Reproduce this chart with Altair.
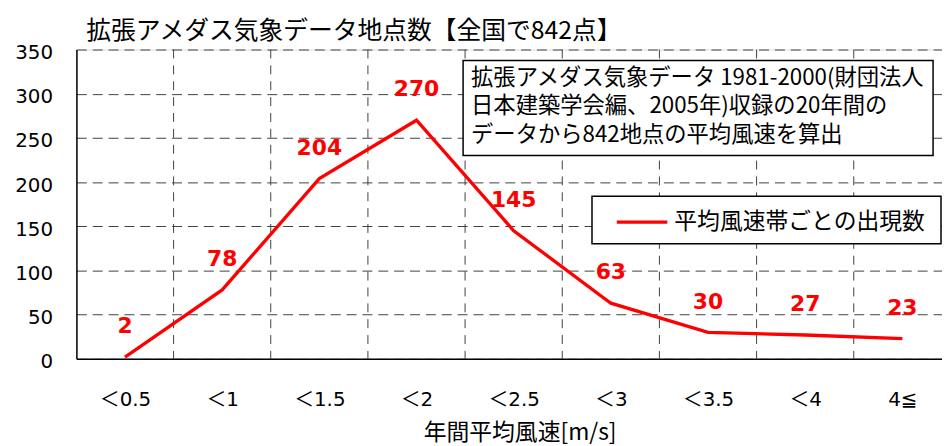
import json
import altair as alt
import pandas as pd

categories = ["＜0.5", "＜1", "＜1.5", "＜2", "＜2.5", "＜3", "＜3.5", "＜4", "4≦"]
counts = [2, 78, 204, 270, 145, 63, 30, 27, 23]
series_name = "平均風速帯ごとの出現数"
title_text = "拡張アメダス気象データ地点数【全国で842点】"
x_title = "年間平均風速[m/s]"
note_lines = [
    "拡張アメダス気象データ 1981-2000(財団法人",
    "日本建築学会編、2005年)収録の20年間の",
    "データから842地点の平均風速を算出",
]
y_ticks = [0, 50, 100, 150, 200, 250, 300, 350]

JP = "Noto Sans CJK JP"
NUM = "DejaVu Sans, Noto Sans CJK JP"
RED = "#ff0000"

df = pd.DataFrame({
    "idx": list(range(len(categories))),
    "category": categories,
    "count": counts,
    "series": [series_name] * len(categories),
})
bounds = pd.DataFrame({"b": [i + 0.5 for i in range(len(categories) - 1)]})
one = pd.DataFrame({"k": [0]})
legend_df = pd.DataFrame({"series": [series_name]})

W, H = 873, 312
step = 98
x_scale = alt.Scale(domain=[-0.5, -0.5 + W / step], nice=False, zero=False)
y_scale = alt.Scale(domain=[0, 350], nice=False)

label_expr = json.dumps(categories, ensure_ascii=False) + "[datum.value]"

x_axis = alt.Axis(
    values=list(range(len(categories))), labelExpr=label_expr, title=x_title,
    grid=False, ticks=False, tickSize=0, domainColor="black", domainWidth=1.5,
    labelFont=NUM, labelFontSize=20, labelColor="black", labelPadding=41,
    labelBaseline="middle", labelFlush=False,
    titleFont=JP, titleFontSize=23, titleFontWeight="normal", titleColor="black",
    titleX=447, titleY=81, titleAlign="center", titleBaseline="alphabetic",
)
y_axis = alt.Axis(
    values=y_ticks, title=None, grid=True, gridDash=[10, 6], gridColor="#404040",
    gridWidth=1, ticks=False, tickSize=0, domainColor="black", domainWidth=1.5,
    labelFont=NUM, labelFontSize=20, labelColor="black", labelPadding=24,
    labelOffset=3, labelFlush=False,
)

grid_rules = alt.Chart(bounds).mark_rule(
    color="#404040", strokeWidth=1, strokeDash=[9, 7]
).encode(x=alt.X("b:Q", scale=x_scale, axis=x_axis))

line = alt.Chart(df).mark_line(strokeWidth=3.3, color=RED).encode(
    x=alt.X("idx:Q", scale=x_scale, axis=x_axis),
    y=alt.Y("count:Q", scale=y_scale, axis=y_axis),
    detail="series:N",
)

labels = alt.Chart(df).mark_text(
    font="DejaVu Sans", fontSize=22, fontWeight="bold", color=RED,
    dy=-31, baseline="middle", align="center",
).encode(
    x=alt.X("idx:Q", scale=x_scale),
    y=alt.Y("count:Q", scale=y_scale),
    text=alt.Text("count:Q"),
)

note_box = alt.Chart(one).mark_rect(
    fill="white", stroke="black", strokeWidth=1.5
).encode(x=alt.value(390), x2=alt.value(864), y=alt.value(11), y2=alt.value(107))

note_texts = [
    alt.Chart(one).mark_text(
        text=ln, font=JP, fontSize=22.5, color="black",
        align="left", baseline="middle",
    ).encode(x=alt.value(398), y=alt.value(29 + i * 28.5))
    for i, ln in enumerate(note_lines)
]

legend_box = alt.Chart(one).mark_rect(
    fill="white", stroke="black", strokeWidth=1.5
).encode(x=alt.value(520), x2=alt.value(872), y=alt.value(148), y2=alt.value(196))

legend_line = alt.Chart(one).mark_rule(color=RED, strokeWidth=3.3).encode(
    x=alt.value(545), x2=alt.value(596), y=alt.value(174)
)

legend_text = alt.Chart(legend_df).mark_text(
    font=JP, fontSize=23, color="black", align="left", baseline="middle",
).encode(x=alt.value(603), y=alt.value(174), text="series:N")

title_mark = alt.Chart(one).mark_text(
    text=title_text, font=JP, fontSize=25, color="black",
    align="left", baseline="alphabetic",
).encode(x=alt.value(10), y=alt.value(-11))

chart = alt.layer(
    grid_rules, line, labels, note_box, *note_texts,
    legend_box, legend_line, legend_text, title_mark,
).properties(
    width=W, height=H,
    autosize=alt.AutoSizeParams(type="none"),
    padding={"left": 69, "top": 40, "right": 0, "bottom": 86},
).configure_view(stroke=None).configure(background="white")

chart.save("out.html", embed_options={"renderer": "svg", "actions": False})
